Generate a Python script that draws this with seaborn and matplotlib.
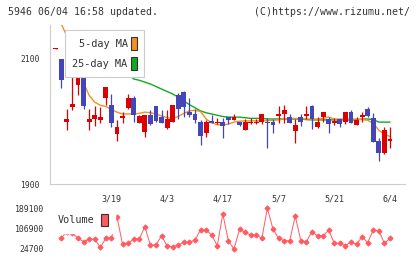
import numpy as np
import pandas as pd
import matplotlib
matplotlib.use("Agg")
import matplotlib.pyplot as plt
from matplotlib.patches import Patch
import seaborn as sns

# daily prices, index 0 = oldest day shown, last = 6/4
opens = [2116, 2100, 1999, 2023, 2058, 2076, 1999, 2003.5, 2002.5, 2037,
         2026, 1979.5, 2006, 2022, 2037, 1998, 1984, 2010, 2025, 2007,
         1989, 2000, 2042, 2048, 2015, 2011.5, 1999, 1981, 2001, 1997,
         1999, 2007, 2002.5, 2000, 1986.5, 1998, 1998, 1999, 1999.5, 2000,
         2009.5, 2011.5, 2007, 1985, 2007, 2009.5, 2025, 1991, 2007, 2004,
         1998, 2004, 2000, 2015, 1994.5, 2008, 2019.5, 2005, 1969, 1950,
         1969]
closes = [2117, 2067, 2004, 2028, 2073, 2025, 2004, 2010.5, 2007.5, 2055,
          1998, 1991.5, 2009, 2037, 2010, 2009, 2010, 1995.5, 2001, 1998,
          2004, 2026, 2019.5, 2024, 2010, 2002.5, 1977, 1999, 1998, 2000,
          1993, 2002.5, 2007, 1994.5, 2000, 2000, 2000, 2011.5, 1997.5, 1995,
          2012, 2018.5, 1998, 1994.5, 1999.5, 2012, 2004, 1999, 2015, 1995.5,
          2001, 1995.5, 2015, 1997, 2002.5, 2010.5, 2009, 1968, 1950, 1986.5,
          1972]
highs = [2117, 2100, 2020, 2078, 2078, 2078, 2020, 2025, 2023, 2055,
         2044, 2002, 2015, 2044, 2041, 2010, 2011, 2018, 2025, 2018,
         2018, 2027, 2045, 2049, 2038, 2020, 2003, 2002, 2011, 2006,
         2006, 2007, 2012, 2000, 2004, 2005.5, 2004, 2012, 2006, 2004,
         2025, 2026.5, 2012, 2004, 2012, 2025, 2026.5, 2007, 2015, 2008,
         2005, 2004, 2015, 2018.5, 2007, 2015, 2023, 2013, 1973, 1991,
         1992]
lows = [2116, 2054, 1986, 2019, 2042, 2019.5, 1986, 1993, 1998, 2026,
        1991, 1969, 1997, 2020, 1999, 1997, 1975, 1995, 2000, 1998,
        1988, 1999, 2004, 2008, 2008, 1997, 1962, 1975, 1997, 1996,
        1974, 1995.5, 2002, 1993, 1986, 1995.5, 1996, 1995.5, 1957, 1982,
        1998, 1997, 1997, 1965, 1993, 2004, 1987.5, 1990, 1998.5, 1981,
        1994.5, 1990.5, 1995.5, 1997, 1994, 2000, 2008, 1967, 1937, 1948,
        1958]

ma5 = [np.nan, 2156, 2137, 2110, 2085, 2062, 2042, 2031, 2026, 2024,
       2019, 2015, 2012, 2012, 2012, 2013, 2015, 2014, 2012, 2009,
       2006, 2005, 2008, 2013, 2017, 2018, 2016, 2004, 1998, 1995,
       1994, 1996, 1999, 2000.5, 2001, 2001, 2001, 2001, 2001.5, 2002,
       2002.5, 2004, 2005, 2005, 2004, 2004, 2004, 2004, 2005, 2007,
       2004, 2004, 2004, 2004, 2004, 2003, 2002, 1997, 1986, 1980,
       1976]
ma25 = [np.nan, np.nan, 2125, 2121, 2117, 2113, 2109, 2105, 2101, 2097,
        2093, 2089, 2084, 2077, 2068, 2066, 2063, 2060, 2056, 2052,
        2048, 2044, 2039, 2033, 2027, 2022, 2017, 2014, 2012, 2010,
        2008, 2007, 2007, 2007, 2006, 2005, 2005, 2005, 2004, 2004,
        2004, 2004, 2004, 2004, 2004, 2003, 2002.5, 2002.5, 2002.5, 2002.5,
        2002.5, 2002.5, 2002.5, 2002.5, 2002.5, 2004, 2004, 2003, 1999, 1999,
        1999]

volume = [np.nan, 67900, 95000, 88000, 67900, 54200, 63900, 63900, 31600, 67900,
          67900, 155200, 43700, 47700, 65100, 65100, 114800, 40900, 40900, 78400,
          36800, 34000, 40900, 51800, 51800, 61100, 101400, 101400, 81200, 38000,
          166100, 57000, 24700, 104300, 92200, 81200, 81200, 67900, 189100, 105500,
          67900, 58200, 58200, 158000, 58200, 54200, 94600, 77200, 77200, 101400,
          47700, 47700, 38000, 54200, 43700, 74400, 50100, 101400, 98600, 47700,
          67900]

date_pos = [10, 20, 30, 40, 50, 60]
date_labels = ["3/19", "4/3", "4/17", "5/7", "5/21", "6/4"]
price_ticks = [1900, 2100]
vol_ticks = [24700, 106900, 189100]

RED = "#dd0000"
BLUE = "#4444bb"
ORANGE = "#f39020"
GREEN = "#11aa22"
VOLC = "#ff5a60"
GRID = "#cccccc"
TXT = "#333333"

sns.set_style("white")
plt.rcParams["font.family"] = ["DejaVu Sans Mono"]

days = np.arange(len(closes))
o = np.array(opens)
c = np.array(closes)
df = pd.DataFrame({"day": days, "ma5": ma5, "ma25": ma25, "volume": volume})

fig = plt.figure(figsize=(4.2, 2.59), dpi=100)
ax = fig.add_axes([50 / 420, 1 - 184 / 259, 355 / 420, 159 / 259])
axv = fig.add_axes([50 / 420, 1 - 253 / 259, 355 / 420, 48 / 259])

xlim = (-1.02, 62.7)

# moving averages under the candles
sns.lineplot(data=df, x="day", y="ma25", color=GREEN, lw=1, ax=ax, zorder=2)
sns.lineplot(data=df, x="day", y="ma5", color=ORANGE, lw=1, ax=ax, zorder=2)

# candles
cols = np.where(c >= o, RED, BLUE)
ax.vlines(days, lows, highs, colors=cols, lw=0.9, zorder=3)
ax.bar(days, np.maximum(np.abs(c - o), 1.6), bottom=np.minimum(o, c),
       width=0.88, color=cols, lw=0, zorder=4)

ax.set_xlim(*xlim)
ax.set_ylim(1900, 2154.4)
ax.set(xlabel=None, ylabel=None)
ax.set_yticks(price_ticks)
ax.tick_params(axis="y", direction="inout", length=5.8, width=0.8, color=GRID,
               pad=4.3, labelsize=5.8, labelcolor=TXT)
ax.set_xticks(date_pos)
ax.set_xticklabels(date_labels)
ax.tick_params(axis="x", which="major", length=0, pad=7.5, labelsize=6, labelcolor=TXT)
ax.set_xticks(np.linspace(xlim[0], xlim[1], 12), minor=True)
ax.tick_params(axis="x", which="minor", direction="out", length=3.6, width=0.8, color=GRID)
ax.spines["top"].set_visible(False)
ax.spines["right"].set_visible(False)
for s in ["left", "bottom"]:
    ax.spines[s].set_color(GRID)
    ax.spines[s].set_linewidth(0.8)

handles = [Patch(facecolor=ORANGE, edgecolor=TXT, lw=0.8, label="5-day MA"),
           Patch(facecolor=GREEN, edgecolor=TXT, lw=0.8, label="25-day MA")]
leg = ax.legend(handles=handles, loc="upper left", bbox_to_anchor=(65 / 420, 1 - 30 / 259),
                bbox_transform=fig.transFigure, borderaxespad=0, markerfirst=False,
                fontsize=7.4, handlelength=0.62, handleheight=1.5, handletextpad=0.3,
                labelspacing=0.7, borderpad=0.72, fancybox=False, framealpha=1,
                edgecolor=GRID, facecolor="white", labelcolor=TXT)
leg.get_frame().set_linewidth(0.8)
leg.set_zorder(10)

# volume
sns.lineplot(data=df, x="day", y="volume", color=VOLC, lw=0.7, marker="D",
             markersize=2.6, markeredgecolor=VOLC, ax=axv)
axv.set_xlim(*xlim)
axv.set_ylim(8540, 202400)
axv.set(xlabel=None, ylabel=None)
axv.set_xticks([])
axv.set_yticks(vol_ticks)
axv.set_yticklabels([str(v) for v in vol_ticks])
axv.tick_params(axis="y", length=0, pad=4.3, labelsize=5.9, labelcolor=TXT)
sns.despine(ax=axv, left=True, bottom=True)
vleg = axv.legend(handles=[Patch(facecolor=VOLC, edgecolor=TXT, lw=0.8, label="Volume")],
                  loc="upper left", bbox_to_anchor=(50.4 / 420, 1 - 206.4 / 259),
                  bbox_transform=fig.transFigure, borderaxespad=0, markerfirst=False,
                  fontsize=7.3, handlelength=0.66, handleheight=1.4, handletextpad=0.6,
                  borderpad=0.75, fancybox=False, framealpha=1, edgecolor="white",
                  facecolor="white", labelcolor=TXT)
vleg.set_zorder(10)

fig.text(8 / 420, 1 - 12 / 259, "5946 06/04 16:58 updated.", ha="left", va="center",
         fontsize=7.1, color=TXT)
fig.text(410 / 420, 1 - 12 / 259, "(C)https://www.rizumu.net/", ha="right", va="center",
         fontsize=7.1, color=TXT)

fig.savefig("out.png", dpi=100)
